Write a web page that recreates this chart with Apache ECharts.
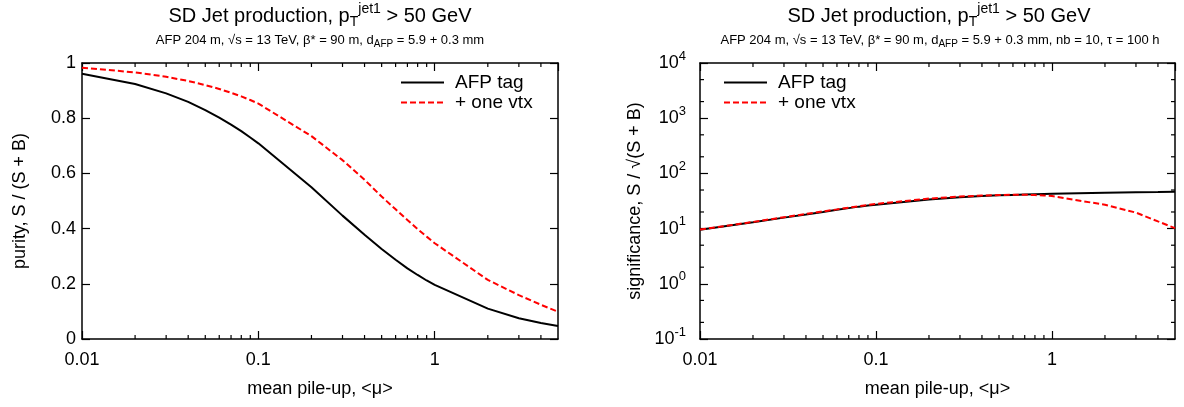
<!DOCTYPE html>
<html><head><meta charset="utf-8">
<script src="https://cdn.jsdelivr.net/npm/echarts@6/dist/echarts.min.js"></script>
<style>html,body{margin:0;padding:0;background:#fff}#c{width:1184px;height:407px}</style>
</head><body><div id="c"></div>
<script>
// ---- data ----
const mu = [0.01,0.02,0.03,0.04,0.05,0.06,0.07,0.08,0.09,0.1,0.2,0.3,0.4,0.5,0.6,0.7,0.8,0.9,1,2,3,4,5];
const purityTag = [0.961,0.924,0.890,0.859,0.829,0.802,0.777,0.753,0.730,0.709,0.550,0.447,0.378,0.326,0.287,0.256,0.232,0.212,0.196,0.110,0.075,0.058,0.047];
const purityVtx = [0.983,0.966,0.950,0.935,0.920,0.906,0.892,0.879,0.866,0.853,0.735,0.648,0.577,0.516,0.470,0.431,0.398,0.371,0.347,0.214,0.159,0.124,0.099];
const signifTag = [9.5,13,15.8,18,20,21.9,23.5,25,26.1,27.1,33.5,37,38.8,40,40.8,41.4,41.9,42.3,42.6,44.5,45.5,46,46.5];
const signifVtx = [9.6,13.2,16.1,18.4,20.5,22.3,24,25.5,26.8,28,35,38,39.8,40.5,41,41,40.5,39.8,38.8,27,19.5,13.5,10.2];
const seriesNames = ['AFP tag', '+ one vtx'];
const xMinorTicks = [0.02,0.03,0.04,0.05,0.06,0.07,0.08,0.09,0.2,0.3,0.4,0.5,0.6,0.7,0.8,0.9,2,3,4];
const yMinorTicksSig = [0.2,0.5,2,5,20,50,200,500,2000,5000];
const xName = 'mean pile-up, <μ>';
const yNamePurity = 'purity, S / (S + B)';
const yNameSignif = 'significance, S / √(S + B)';

const FONT = 'Liberation Sans, Arial, Helvetica, sans-serif';
const BLACK = '#000';
const RED = '#ff0000';

const chart = echarts.init(document.getElementById('c'), null, {renderer: 'canvas'});

const axisLine = {show: true, onZero: false, lineStyle: {color: BLACK, width: 1.5}};
const axisTick = {show: true, inside: true, length: 8, lineStyle: {color: BLACK, width: 1.2}};
const fmtLogX = v => String(parseFloat(Number(v).toPrecision(3)));

function xAxisPair(gi) {
  return [
    {type: 'log', logBase: 10, min: 0.01, max: 5, gridIndex: gi, position: 'bottom',
     axisLine, axisTick, splitLine: {show: false},
     axisLabel: {color: BLACK, fontSize: 18, fontFamily: FONT, margin: 12, showMaxLabel: false, formatter: fmtLogX},
     name: xName, nameLocation: 'middle', nameGap: 41,
     nameTextStyle: {color: BLACK, fontSize: 18, fontFamily: FONT}},
    {type: 'log', logBase: 10, min: 0.01, max: 5, gridIndex: gi, position: 'top',
     axisLine, axisTick, splitLine: {show: false}, axisLabel: {show: false}}
  ];
}

const supRich = {
  b: {fontSize: 18, fontFamily: FONT, color: BLACK},
  s: {fontSize: 13, fontFamily: FONT, color: BLACK, padding: [0, 0, 14, 0]}
};

function legendAt(left) {
  return {data: seriesNames, orient: 'vertical', left: left, top: 73, padding: 0,
    itemWidth: 43, itemHeight: 14, itemGap: 1, selectedMode: false,
    itemStyle: {color: 'transparent', borderWidth: 0, opacity: 0},
    textStyle: {fontSize: 19, fontFamily: FONT, color: BLACK, padding: [0, 0, 0, 6]}};
}

function titleRich(main) {
  return main
    ? {n: {fontSize: 20, fontFamily: FONT, fill: BLACK},
       sub: {fontSize: 14, fontFamily: FONT, fill: BLACK, padding: [12, 0, 0, 0]},
       sup: {fontSize: 14, fontFamily: FONT, fill: BLACK, padding: [0, 0, 14, 0]}}
    : {n: {fontSize: 13, fontFamily: FONT, fill: BLACK},
       sub: {fontSize: 10, fontFamily: FONT, fill: BLACK, padding: [8, 0, 0, 0]}};
}

const mainTitle = '{n|SD Jet production, p}{sub|T}{sup|jet1}{n| > 50 GeV}';
const subLeft = '{n|AFP 204 m, √s = 13 TeV, β* = 90 m, d}{sub|AFP}{n| = 5.9 + 0.3 mm}';
const subRight = '{n|AFP 204 m, √s = 13 TeV, β* = 90 m, d}{sub|AFP}{n| = 5.9 + 0.3 mm, nb = 10, τ = 100 h}';

function minorTicks(xi, yi, data) {
  return {
    type: 'custom', xAxisIndex: xi, yAxisIndex: yi, silent: true, clip: false, z: 3,
    data: data,
    renderItem: function (params, api) {
      const cs = params.coordSys;
      const L = 4;
      const p = api.coord([api.value(0), api.value(1)]);
      const st = {stroke: BLACK, lineWidth: 1.2};
      if (api.value(2) === 0) {
        const x = p[0];
        return {type: 'group', children: [
          {type: 'line', shape: {x1: x, y1: cs.y + cs.height, x2: x, y2: cs.y + cs.height - L}, style: st},
          {type: 'line', shape: {x1: x, y1: cs.y, x2: x, y2: cs.y + L}, style: st}
        ]};
      }
      const y = p[1];
      return {type: 'group', children: [
        {type: 'line', shape: {x1: cs.x, y1: y, x2: cs.x + L, y2: y}, style: st},
        {type: 'line', shape: {x1: cs.x + cs.width, y1: y, x2: cs.x + cs.width - L, y2: y}, style: st}
      ]};
    }
  };
}

const option = {
  animation: false,
  backgroundColor: '#fff',
  grid: [
    {left: 82, top: 63, width: 476, height: 276, containLabel: false},
    {left: 700, top: 63, width: 475, height: 276, containLabel: false}
  ],
  xAxis: [...xAxisPair(0), ...xAxisPair(1)],
  yAxis: [
    {type: 'value', min: 0, max: 1, interval: 0.2, gridIndex: 0, position: 'left',
     axisLine, axisTick, splitLine: {show: false},
     axisLabel: {color: BLACK, fontSize: 18, fontFamily: FONT, margin: 6, formatter: v => String(+Number(v).toFixed(1))},
     name: yNamePurity, nameLocation: 'middle', nameGap: 53,
     nameTextStyle: {color: BLACK, fontSize: 18, fontFamily: FONT}},
    {type: 'value', min: 0, max: 1, interval: 0.2, gridIndex: 0, position: 'right',
     axisLine, axisTick, splitLine: {show: false}, axisLabel: {show: false}},
    {type: 'log', logBase: 10, min: 0.1, max: 10000, gridIndex: 1, position: 'left',
     axisLine, axisTick, splitLine: {show: false},
     axisLabel: {color: BLACK, fontSize: 18, fontFamily: FONT, margin: 14,
       formatter: v => '{b|10}{s|' + Math.round(Math.log10(v)) + '}', rich: supRich},
     name: yNameSignif, nameLocation: 'middle', nameGap: 56,
     nameTextStyle: {color: BLACK, fontSize: 18, fontFamily: FONT}},
    {type: 'log', logBase: 10, min: 0.1, max: 10000, gridIndex: 1, position: 'right',
     axisLine, axisTick, splitLine: {show: false}, axisLabel: {show: false}}
  ],
  legend: [legendAt(400), legendAt(723)],
  graphic: [
    {type: 'text', x: 320, y: 16, silent: true, style: {text: mainTitle, align: 'center', verticalAlign: 'middle', rich: titleRich(true)}},
    {type: 'text', x: 320, y: 40, silent: true, style: {text: subLeft, align: 'center', verticalAlign: 'middle', rich: titleRich(false)}},
    {type: 'text', x: 939, y: 16, silent: true, style: {text: mainTitle, align: 'center', verticalAlign: 'middle', rich: titleRich(true)}},
    {type: 'text', x: 940, y: 40, silent: true, style: {text: subRight, align: 'center', verticalAlign: 'middle', rich: titleRich(false)}}
  ],
  series: [
    minorTicks(0, 0, xMinorTicks.map(v => [v, 0.5, 0])),
    minorTicks(2, 2, xMinorTicks.map(v => [v, 1, 0]).concat(yMinorTicksSig.map(v => [1, v, 1]))),
    {name: seriesNames[0], type: 'line', xAxisIndex: 0, yAxisIndex: 0, symbol: 'none', z: 4,
     data: mu.map((m, i) => [m, purityTag[i]]),
     lineStyle: {color: BLACK, width: 2}, itemStyle: {color: BLACK}},
    {name: seriesNames[1], type: 'line', xAxisIndex: 0, yAxisIndex: 0, symbol: 'none', z: 5,
     data: mu.map((m, i) => [m, purityVtx[i]]),
     lineStyle: {color: RED, width: 2, type: [6, 3]}, itemStyle: {color: RED}},
    {name: seriesNames[0], type: 'line', xAxisIndex: 2, yAxisIndex: 2, symbol: 'none', z: 4,
     data: mu.map((m, i) => [m, signifTag[i]]),
     lineStyle: {color: BLACK, width: 2}, itemStyle: {color: BLACK}},
    {name: seriesNames[1], type: 'line', xAxisIndex: 2, yAxisIndex: 2, symbol: 'none', z: 5,
     data: mu.map((m, i) => [m, signifVtx[i]]),
     lineStyle: {color: RED, width: 2, type: [6, 3]}, itemStyle: {color: RED}}
  ]
};

chart.setOption(option);
</script>
</body></html>
